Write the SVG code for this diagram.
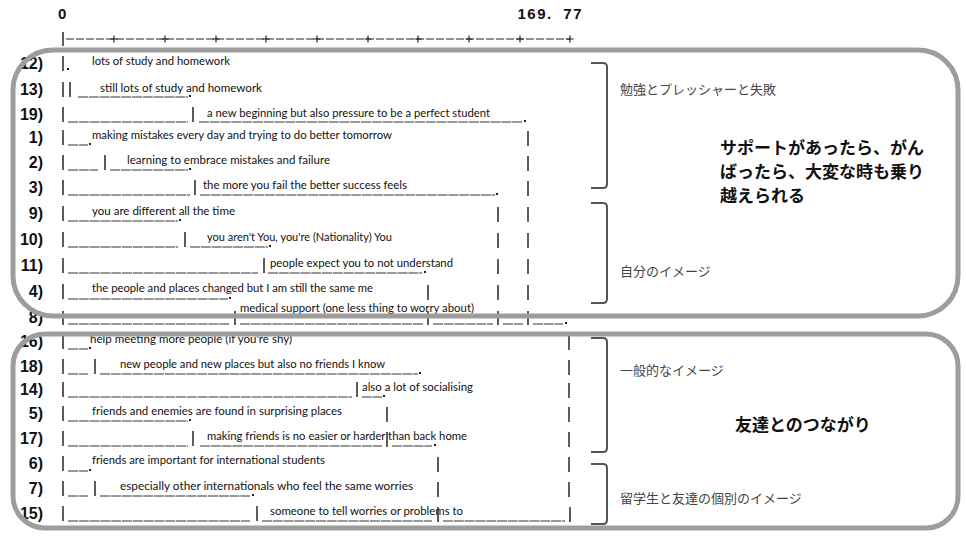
<svg xmlns="http://www.w3.org/2000/svg" width="966" height="536" viewBox="0 0 966 536">
<style>
.hd{font-family:"Liberation Sans",Arial,sans-serif;font-weight:bold;font-size:15px;fill:#111}
.lbl{font-family:"Liberation Sans",Arial,sans-serif;font-weight:bold;font-size:16px;fill:#111;text-anchor:end}
.t{font-family:Lato,"Liberation Sans",sans-serif;font-size:11px;fill:#111}
.u{stroke:#333;stroke-width:1;stroke-dasharray:10 0.8;fill:none}
.b{stroke:#333;stroke-width:1.6}
.d{fill:#222}
.ax{stroke:#222;stroke-width:1;stroke-dasharray:8 2}
.pl{stroke:#222;stroke-width:1.2}
.fr{fill:none;stroke:#9d9d9d;stroke-width:5}
.br{fill:none;stroke:#555;stroke-width:2}
.jp{font-family:"Noto Sans CJK JP","Noto Sans CJK SC",sans-serif;font-size:13px;fill:#444}
.big{font-family:"Noto Sans CJK JP","Noto Sans CJK SC",sans-serif;font-size:17px;font-weight:bold;fill:#111}
</style>
<defs>
<path id="plus" d="M-3.5,0H3.5M0,-3.5V3.5" class="pl"/>
</defs>

<g id="axis">
<text class="hd" x="58" y="19">0</text>
<text class="hd" x="583" y="19" text-anchor="end" letter-spacing="1.5" word-spacing="5">169. 77</text>
<line class="b" x1="63" y1="32" x2="63" y2="46"/>
<line class="ax" x1="66" y1="39" x2="570" y2="39"/>
<use href="#plus" x="114" y="39"/><use href="#plus" x="165" y="39"/><use href="#plus" x="216" y="39"/>
<use href="#plus" x="266" y="39"/><use href="#plus" x="317" y="39"/><use href="#plus" x="368" y="39"/>
<use href="#plus" x="418" y="39"/><use href="#plus" x="469" y="39"/><use href="#plus" x="520" y="39"/>
<use href="#plus" x="570" y="39"/>
</g>

<g id="row-12" transform="translate(0,63)">
<text class="lbl" x="43" y="6">12)</text>
<line class="b" x1="63" y1="-7" x2="63" y2="8"/><rect class="d" x="67" y="5" width="2" height="2"/>
<text class="t" x="92" y="1.5" textLength="138" lengthAdjust="spacingAndGlyphs">lots of study and homework</text>
</g>
<g id="row-13" transform="translate(0,89)">
<text class="lbl" x="43" y="6">13)</text>
<line class="b" x1="63" y1="-7" x2="63" y2="8"/><line class="b" x1="70" y1="-7" x2="70" y2="8"/>
<line class="u" x1="78" y1="8" x2="188" y2="8"/><rect class="d" x="189" y="6" width="2" height="2"/>
<text class="t" x="100" y="2.5" textLength="162" lengthAdjust="spacingAndGlyphs">still lots of study and homework</text>
</g>
<g id="row-19" transform="translate(0,114)">
<text class="lbl" x="43" y="6">19)</text>
<line class="b" x1="63" y1="-7" x2="63" y2="8"/>
<line class="u" x1="68" y1="8" x2="188" y2="8"/><line class="b" x1="193" y1="-7" x2="193" y2="8"/>
<line class="u" x1="199" y1="8" x2="522" y2="8"/><rect class="d" x="524" y="6" width="2" height="2"/>
<text class="t" x="207" y="2.5" textLength="283" lengthAdjust="spacingAndGlyphs">a new beginning but also pressure to be a perfect student</text>
</g>
<g id="row-1" transform="translate(0,137)">
<text class="lbl" x="43" y="6">1)</text>
<line class="b" x1="63" y1="-7" x2="63" y2="8"/>
<line class="u" x1="68" y1="8" x2="88" y2="8"/><rect class="d" x="89" y="6" width="2" height="2"/>
<text class="t" x="92" y="1.5" textLength="300" lengthAdjust="spacingAndGlyphs">making mistakes every day and trying to do better tomorrow</text>
<line class="b" x1="528" y1="-6" x2="528" y2="9"/>
</g>
<g id="row-2" transform="translate(0,162)">
<text class="lbl" x="43" y="6">2)</text>
<line class="b" x1="63" y1="-7" x2="63" y2="8"/>
<line class="u" x1="68" y1="8" x2="98" y2="8"/><line class="b" x1="105" y1="-7" x2="105" y2="8"/>
<line class="u" x1="110" y1="8" x2="188" y2="8"/><rect class="d" x="189" y="6" width="2" height="2"/>
<text class="t" x="127" y="1.5" textLength="203" lengthAdjust="spacingAndGlyphs">learning to embrace mistakes and failure</text>
<line class="b" x1="528" y1="-6" x2="528" y2="9"/>
</g>
<g id="row-3" transform="translate(0,187)">
<text class="lbl" x="43" y="6">3)</text>
<line class="b" x1="63" y1="-7" x2="63" y2="8"/>
<line class="u" x1="68" y1="8" x2="190" y2="8"/><line class="b" x1="195" y1="-7" x2="195" y2="8"/>
<line class="u" x1="200" y1="8" x2="495" y2="8"/><rect class="d" x="496" y="6" width="2" height="2"/>
<text class="t" x="203" y="1.5" textLength="204" lengthAdjust="spacingAndGlyphs">the more you fail the better success feels</text>
<line class="b" x1="528" y1="-6" x2="528" y2="9"/>
</g>
<g id="row-9" transform="translate(0,213)">
<text class="lbl" x="43" y="6">9)</text>
<line class="b" x1="63" y1="-7" x2="63" y2="8"/>
<line class="u" x1="68" y1="8" x2="178" y2="8"/><rect class="d" x="179" y="6" width="2" height="2"/>
<text class="t" x="92" y="1.5" textLength="143" lengthAdjust="spacingAndGlyphs">you are different all the time</text>
<line class="b" x1="498" y1="-6" x2="498" y2="9"/><line class="b" x1="528" y1="-6" x2="528" y2="9"/>
</g>
<g id="row-10" transform="translate(0,239)">
<text class="lbl" x="43" y="6">10)</text>
<line class="b" x1="63" y1="-7" x2="63" y2="8"/>
<line class="u" x1="68" y1="8" x2="178" y2="8"/><line class="b" x1="185" y1="-7" x2="185" y2="8"/>
<line class="u" x1="190" y1="8" x2="268" y2="8"/><rect class="d" x="269" y="6" width="2" height="2"/>
<text class="t" x="207" y="1.5" textLength="185" lengthAdjust="spacingAndGlyphs">you aren't You, you're (Nationality) You</text>
<line class="b" x1="498" y1="-6" x2="498" y2="9"/><line class="b" x1="528" y1="-6" x2="528" y2="9"/>
</g>
<g id="row-11" transform="translate(0,265)">
<text class="lbl" x="43" y="6">11)</text>
<line class="b" x1="63" y1="-7" x2="63" y2="8"/>
<line class="u" x1="68" y1="8" x2="258" y2="8"/><line class="b" x1="264" y1="-7" x2="264" y2="8"/>
<line class="u" x1="268" y1="8" x2="422" y2="8"/><rect class="d" x="424" y="6" width="2" height="2"/>
<text class="t" x="270" y="1.5" textLength="183" lengthAdjust="spacingAndGlyphs">people expect you to not understand</text>
<line class="b" x1="498" y1="-6" x2="498" y2="9"/><line class="b" x1="528" y1="-6" x2="528" y2="9"/>
</g>
<g id="row-4" transform="translate(0,291)">
<text class="lbl" x="43" y="6">4)</text>
<line class="b" x1="63" y1="-7" x2="63" y2="8"/>
<line class="u" x1="68" y1="8" x2="228" y2="8"/><rect class="d" x="229" y="6" width="2" height="2"/>
<text class="t" x="92" y="0.5" textLength="281" lengthAdjust="spacingAndGlyphs">the people and places changed but I am still the same me</text>
<line class="b" x1="428" y1="-6" x2="428" y2="9"/><line class="b" x1="498" y1="-6" x2="498" y2="9"/><line class="b" x1="528" y1="-6" x2="528" y2="9"/>
</g>
<g id="row-8" transform="translate(0,317)">
<text class="lbl" x="43" y="6">8)</text>
<line class="b" x1="63" y1="-6" x2="63" y2="8"/>
<line class="u" x1="68" y1="7" x2="230" y2="7"/><line class="b" x1="235" y1="-6" x2="235" y2="8"/>
<line class="u" x1="240" y1="7" x2="423" y2="7"/><line class="b" x1="428" y1="-6" x2="428" y2="8"/>
<line class="u" x1="433" y1="7" x2="493" y2="7"/><line class="b" x1="498" y1="-6" x2="498" y2="8"/>
<line class="u" x1="503" y1="7" x2="523" y2="7"/><line class="b" x1="528" y1="-6" x2="528" y2="8"/>
<line class="u" x1="533" y1="7" x2="563" y2="7"/><rect class="d" x="565" y="5" width="2" height="2"/>
<text class="t" x="240" y="-5.5" textLength="234" lengthAdjust="spacingAndGlyphs">medical support (one less thing to worry about)</text>
</g>
<g id="row-16" transform="translate(0,341)">
<text class="lbl" x="43" y="6">16)</text>
<line class="b" x1="63" y1="-7" x2="63" y2="8"/>
<line class="u" x1="68" y1="8" x2="88" y2="8"/><rect class="d" x="89" y="6" width="2" height="2"/>
<text class="t" x="90" y="1.5" textLength="202" lengthAdjust="spacingAndGlyphs">help meeting more people (if you're shy)</text>
<line class="b" x1="569" y1="-6" x2="569" y2="9"/>
</g>
<g id="row-18" transform="translate(0,366)">
<text class="lbl" x="43" y="6">18)</text>
<line class="b" x1="63" y1="-7" x2="63" y2="8"/>
<line class="u" x1="68" y1="8" x2="88" y2="8"/><line class="b" x1="95" y1="-7" x2="95" y2="8"/>
<line class="u" x1="100" y1="8" x2="418" y2="8"/><rect class="d" x="419" y="6" width="2" height="2"/>
<text class="t" x="120" y="1.5" textLength="265" lengthAdjust="spacingAndGlyphs">new people and new places but also no friends I know</text>
<line class="b" x1="569" y1="-6" x2="569" y2="9"/>
</g>
<g id="row-14" transform="translate(0,389)">
<text class="lbl" x="43" y="6">14)</text>
<line class="b" x1="63" y1="-7" x2="63" y2="8"/>
<line class="u" x1="68" y1="8" x2="352" y2="8"/><line class="b" x1="357" y1="-7" x2="357" y2="8"/>
<line class="u" x1="362" y1="8" x2="382" y2="8"/><rect class="d" x="383" y="6" width="2" height="2"/>
<text class="t" x="362" y="1.5" textLength="111" lengthAdjust="spacingAndGlyphs">also a lot of socialising</text>
<line class="b" x1="569" y1="-6" x2="569" y2="9"/>
</g>
<g id="row-5" transform="translate(0,413)">
<text class="lbl" x="43" y="6">5)</text>
<line class="b" x1="63" y1="-7" x2="63" y2="8"/>
<line class="u" x1="68" y1="8" x2="188" y2="8"/><rect class="d" x="189" y="6" width="2" height="2"/>
<text class="t" x="92" y="1.5" textLength="250" lengthAdjust="spacingAndGlyphs">friends and enemies are found in surprising places</text>
<line class="b" x1="387" y1="-6" x2="387" y2="9"/><line class="b" x1="569" y1="-6" x2="569" y2="9"/>
</g>
<g id="row-17" transform="translate(0,438)">
<text class="lbl" x="43" y="6">17)</text>
<line class="b" x1="63" y1="-7" x2="63" y2="8"/>
<line class="u" x1="68" y1="8" x2="188" y2="8"/><line class="b" x1="193" y1="-7" x2="193" y2="8"/>
<line class="u" x1="200" y1="8" x2="382" y2="8"/><line class="b" x1="387" y1="-6" x2="387" y2="9"/>
<line class="u" x1="392" y1="8" x2="432" y2="8"/><rect class="d" x="434" y="6" width="2" height="2"/>
<text class="t" x="207" y="1.5" textLength="260" lengthAdjust="spacingAndGlyphs">making friends is no easier or harder than back home</text>
<line class="b" x1="569" y1="-6" x2="569" y2="9"/>
</g>
<g id="row-6" transform="translate(0,463)">
<text class="lbl" x="43" y="6">6)</text>
<line class="b" x1="63" y1="-7" x2="63" y2="8"/>
<line class="u" x1="68" y1="8" x2="88" y2="8"/><rect class="d" x="89" y="6" width="2" height="2"/>
<text class="t" x="92" y="0.5" textLength="233" lengthAdjust="spacingAndGlyphs">friends are important for international students</text>
<line class="b" x1="438" y1="-6" x2="438" y2="9"/><line class="b" x1="569" y1="-6" x2="569" y2="9"/>
</g>
<g id="row-7" transform="translate(0,488)">
<text class="lbl" x="43" y="6">7)</text>
<line class="b" x1="63" y1="-7" x2="63" y2="8"/>
<line class="u" x1="68" y1="8" x2="88" y2="8"/><line class="b" x1="95" y1="-7" x2="95" y2="8"/>
<line class="u" x1="100" y1="8" x2="250" y2="8"/><rect class="d" x="252" y="6" width="2" height="2"/>
<text class="t" x="120" y="1.5" textLength="293" lengthAdjust="spacingAndGlyphs">especially other internationals who feel the same worries</text>
<line class="b" x1="438" y1="-6" x2="438" y2="9"/><line class="b" x1="569" y1="-6" x2="569" y2="9"/>
</g>
<g id="row-15" transform="translate(0,513)">
<text class="lbl" x="43" y="6">15)</text>
<line class="b" x1="63" y1="-7" x2="63" y2="8"/>
<line class="u" x1="68" y1="8" x2="250" y2="8"/><line class="b" x1="257" y1="-7" x2="257" y2="8"/>
<line class="u" x1="262" y1="8" x2="432" y2="8"/><line class="b" x1="438" y1="-6" x2="438" y2="9"/>
<line class="u" x1="443" y1="8" x2="565" y2="8"/><line class="b" x1="570" y1="-6" x2="570" y2="9"/>
<text class="t" x="270" y="1.5" textLength="193" lengthAdjust="spacingAndGlyphs">someone to tell worries or problems to</text>
</g>

<g id="frames">
<rect class="fr" x="13" y="50" width="945" height="266" rx="40"/>
<rect class="fr" x="13" y="334" width="945" height="194" rx="32"/>
</g>

<g id="connectors">
<path class="br" d="M591,63H603Q607,63 607,67V184Q607,188 603,188H591"/>
<path class="br" d="M591,203H603Q607,203 607,207V299Q607,303 603,303H591"/>
<path class="br" d="M591,338H603Q607,338 607,342V448Q607,452 603,452H591"/>
<path class="br" d="M591,464H603Q607,464 607,468V520Q607,524 603,524H591"/>
</g>

<g id="cluster-labels">
<text class="jp" x="620" y="94">勉強とプレッシャーと失敗</text>
<text class="jp" x="620" y="276">自分のイメージ</text>
<text class="jp" x="620" y="375">一般的なイメージ</text>
<text class="jp" x="620" y="503">留学生と友達の個別のイメージ</text>
<text class="big" x="720" y="154">サポートがあったら、がん</text>
<text class="big" x="720" y="178">ばったら、大変な時も乗り</text>
<text class="big" x="720" y="202">越えられる</text>
<text class="big" x="735" y="431">友達とのつながり</text>
</g>
</svg>
